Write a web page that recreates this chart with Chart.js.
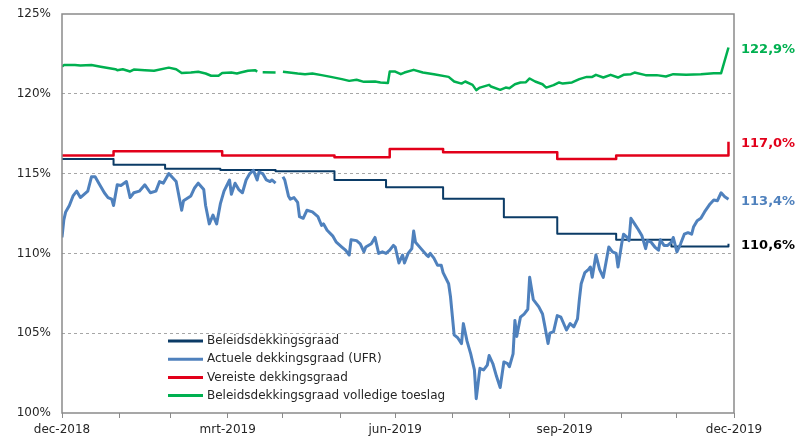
<!DOCTYPE html>
<html>
<head>
<meta charset="utf-8">
<script src="https://cdn.jsdelivr.net/npm/chart.js@4/dist/chart.umd.min.js"></script>
<style>
  body { margin: 0; background: #fff; }
  #wrap { width: 806px; height: 436px; }
</style>
</head>
<body>
<div id="wrap"><canvas id="dgChart" width="806" height="436"></canvas></div>
<script>
// x = dagen sinds 31-12-2018 (eind van de maand dec-2018)
const monthTicks = [0, 31, 59, 90, 120, 151, 181, 212, 243, 273, 304, 334, 365];
const monthLabels = ['dec-2018', '', '', 'mrt-2019', '', '', 'jun-2019', '', '', 'sep-2019', '', '', 'dec-2019'];
const yTicks = [100, 105, 110, 115, 120, 125];

const seriesNames = [
  'Beleidsdekkingsgraad',
  'Actuele dekkingsgraad (UFR)',
  'Vereiste dekkingsgraad',
  'Beleidsdekkingsgraad volledige toeslag'
];

// beleidsdekkingsgraad (trapjes)
const navyDays = [0, 28, 56, 86, 116, 148, 176, 207, 240, 269, 301, 331, 358, 362];
const navyValues = [115.92, 115.56, 115.3, 115.23, 115.15, 114.6, 114.15, 113.42, 112.27, 111.23, 110.85, 110.44, 110.44, 110.6];

// vereiste dekkingsgraad (trapjes)
const redDays = [0, 28, 87, 148, 178, 207, 269, 301, 358, 362];
const redValues = [116.13, 116.4, 116.13, 116.02, 116.54, 116.33, 115.92, 116.13, 116.13, 117.0];

// actuele dekkingsgraad
const blueDays = [
  0, 1, 2, 4, 6, 8, 10, 12, 14, 16,
  18, 20, 23, 25, 27, 28, 30, 32, 35, 37,
  39, 42, 45, 48, 51, 53, 55, 58, 62, 65,
  66, 70, 72, 74, 77, 78, 80, 82, 84, 86,
  88, 91, 92, 94, 96, 98, 100, 102, 104, 106,
  107, 109, 111, 113, 114, 116, 118, 120, 121, 123,
  124, 126, 128, 129, 131, 133, 136, 139, 141, 142,
  144, 147, 149, 152, 154, 156, 157, 160, 162, 164,
  165, 168, 170, 172, 174, 176, 178, 180, 181, 183,
  185, 186, 188, 190, 191, 192, 195, 198, 199, 200,
  202, 204, 206, 207, 210, 211, 213, 215, 217, 218,
  220, 222, 224, 225, 227, 229, 231, 232, 234, 236,
  238, 240, 242, 243, 245, 246, 247, 249, 251, 253,
  254, 256, 259, 261, 262, 264, 265, 267, 269, 271,
  274, 276, 278, 280, 281, 282, 284, 286, 287, 288,
  290, 292, 294, 297, 299, 301, 302, 304, 305, 307,
  308, 309, 311, 313, 315, 317, 318, 320, 322, 324,
  325, 327, 329, 331, 332, 334, 336, 338, 340, 342,
  343, 345, 347, 349, 352, 354, 356, 358, 360, 362
];
const blueValues = [
  111.0, 112.1, 112.6, 113.0, 113.6, 113.9, 113.5, 113.7, 113.9, 114.8,
  114.8, 114.4, 113.8, 113.5, 113.4, 113.0, 114.3, 114.25, 114.5, 113.5,
  113.8, 113.9, 114.3, 113.8, 113.9, 114.5, 114.4, 115.0, 114.5, 112.7,
  113.3, 113.6, 114.1, 114.4, 114.0, 113.0, 111.85, 112.4, 111.85, 113.1,
  113.9, 114.6, 113.7, 114.4, 114.0, 113.8, 114.6, 115.0, 115.2, 114.6,
  115.1, 115.0, 114.6, 114.5, 114.6, 114.4, null, 114.8, 114.6, 113.6,
  113.4, 113.5, 113.2, 112.3, 112.2, 112.7, 112.6, 112.3, 111.75, 111.85,
  111.45, 111.1, 110.7, 110.4, 110.2, 109.9, 110.85, 110.8, 110.6, 110.1,
  110.4, 110.6, 111.0, 110.0, 110.1, 110.0, 110.2, 110.5, 110.4, 109.4,
  109.9, 109.4, 110.0, 110.3, 111.4, 110.7, 110.3, 109.9, 109.8, 110.0,
  109.7, 109.25, 109.25, 108.8, 108.1, 107.3, 104.9, 104.7, 104.35, 105.6,
  104.5, 103.7, 102.7, 100.9, 102.8, 102.7, 103.0, 103.6, 103.1, 102.3,
  101.6, 103.2, 103.1, 102.9, 103.7, 105.8, 104.8, 106.0, 106.2, 106.5,
  108.5, 107.1, 106.65, 106.2, 105.6, 104.35, 105.0, 105.1, 106.1, 106.0,
  105.2, 105.6, 105.4, 105.9, 107.1, 108.1, 108.8, 109.0, 109.15, 108.5,
  109.9, 109.0, 108.5, 110.4, 110.1, 110.0, 109.15, 110.6, 111.2, 111.0,
  110.8, 112.2, 111.85, 111.5, 111.1, 110.3, 110.8, 110.7, 110.4, 110.2,
  110.85, 110.5, 110.5, 110.7, 111.0, 110.1, 110.6, 111.2, 111.3, 111.2,
  111.65, 112.05, 112.2, 112.6, 113.1, 113.35, 113.3, 113.8, 113.55, 113.4
];

// beleidsdekkingsgraad volledige toeslag
const greenDays = [
  0, 1, 7, 10, 16, 21, 29, 30, 33, 37,
  39, 45, 50, 58, 62, 65, 70, 74, 78, 81,
  85, 87, 92, 95, 97, 101, 105, 106, 107, 109,
  116, 118, 120, 128, 132, 136, 141, 146, 152, 156,
  160, 164, 170, 173, 177, 178, 181, 184, 186, 191,
  196, 202, 210, 213, 217, 219, 223, 225, 227, 232,
  233, 238, 241, 243, 246, 249, 252, 254, 257, 261,
  263, 267, 270, 272, 277, 281, 285, 288, 290, 294,
  298, 302, 305, 309, 311, 317, 323, 328, 332, 339,
  347, 354, 358, 362
];
const greenValues = [
  121.7, 121.8, 121.8, 121.77, 121.8, 121.7, 121.54, 121.48, 121.54, 121.4,
  121.52, 121.48, 121.44, 121.64, 121.54, 121.3, 121.33, 121.38, 121.27, 121.13,
  121.13, 121.3, 121.33, 121.27, 121.33, 121.44, 121.48, 121.38, null, 121.35,
  121.33, null, 121.38, 121.27, 121.23, 121.27, 121.17, 121.06, 120.92, 120.81,
  120.88, 120.75, 120.77, 120.71, 120.67, 121.39, 121.39, 121.23, 121.33, 121.5,
  121.33, 121.23, 121.06, 120.77, 120.64, 120.77, 120.56, 120.23, 120.39, 120.56,
  120.46, 120.25, 120.39, 120.35, 120.6, 120.71, 120.73, 120.96, 120.77, 120.6,
  120.39, 120.54, 120.71, 120.64, 120.71, 120.92, 121.06, 121.06, 121.19, 121.02,
  121.19, 121.02, 121.19, 121.23, 121.33, 121.17, 121.17, 121.08, 121.23, 121.19,
  121.23, 121.29, 121.29, 122.9
];

const colors = ['#0b3b66', '#4f81bd', '#e2001a', '#00b050'];
const endLabelColors = ['#000000', '#4f81bd', '#e2001a', '#00b050'];

function toPoints(days, values) {
  return days.map((d, i) => ({ x: d, y: values[i] }));
}

// rand om plotgebied, legenda in de grafiek en eindwaarden rechts
const extras = {
  id: 'extras',
  afterDraw(chart) {
    const ctx = chart.ctx;
    const a = chart.chartArea;
    ctx.save();
    ctx.strokeStyle = '#8a8a8a';
    ctx.lineWidth = 1.5;
    ctx.strokeRect(a.left, a.top, a.right - a.left, a.bottom - a.top);

    // legenda
    ctx.font = '12px "DejaVu Sans"';
    ctx.textBaseline = 'middle';
    ctx.textAlign = 'left';
    seriesNames.forEach((name, i) => {
      const y = 341 + i * 18.2;
      ctx.strokeStyle = colors[i];
      ctx.lineWidth = 3;
      ctx.beginPath();
      ctx.moveTo(168, y);
      ctx.lineTo(203, y);
      ctx.stroke();
      ctx.fillStyle = '#262626';
      ctx.fillText(name, 207, y);
    });

    // eindwaarden
    ctx.font = 'bold 13px "DejaVu Sans"';
    const ys = chart.scales.y;
    chart.data.datasets.forEach((ds, i) => {
      const last = ds.data[ds.data.length - 1].y;
      const y = ys.getPixelForValue(last) + 2;
      ctx.fillStyle = endLabelColors[i];
      ctx.fillText(last.toFixed(1).replace('.', ',') + '%', 741, y);
    });
    ctx.restore();
  }
};

new Chart(document.getElementById('dgChart'), {
  type: 'line',
  data: {
    datasets: [
      {
        label: seriesNames[0],
        data: toPoints(navyDays, navyValues),
        borderColor: colors[0],
        borderWidth: 2,
        stepped: 'before',
        order: 3
      },
      {
        label: seriesNames[1],
        data: toPoints(blueDays, blueValues),
        borderColor: colors[1],
        borderWidth: 3,
        order: 2
      },
      {
        label: seriesNames[2],
        data: toPoints(redDays, redValues),
        borderColor: colors[2],
        borderWidth: 2.5,
        stepped: 'before',
        order: 1
      },
      {
        label: seriesNames[3],
        data: toPoints(greenDays, greenValues),
        borderColor: colors[3],
        borderWidth: 2.5,
        order: 0
      }
    ]
  },
  options: {
    responsive: false,
    animation: false,
    spanGaps: false,
    elements: {
      point: { radius: 0, hoverRadius: 0 },
      line: { tension: 0, fill: false, borderJoinStyle: 'round' }
    },
    layout: { autoPadding: false, padding: { left: 0, top: 14, right: 72, bottom: 0 } },
    plugins: {
      legend: { display: false },
      tooltip: { enabled: false }
    },
    scales: {
      x: {
        type: 'linear',
        min: 0,
        max: 365,
        afterBuildTicks: s => { s.ticks = monthTicks.map(v => ({ value: v })); },
        afterFit: s => { s.height = 23; },
        grid: { drawOnChartArea: false, drawTicks: true, tickLength: 5, color: '#8a8a8a' },
        border: { display: false },
        ticks: {
          autoSkip: false,
          maxRotation: 0,
          padding: 5,
          color: '#262626',
          font: { family: 'DejaVu Sans', size: 12 },
          callback: (v, i) => monthLabels[i]
        }
      },
      y: {
        min: 100,
        max: 125,
        afterBuildTicks: s => { s.ticks = yTicks.map(v => ({ value: v })); },
        afterFit: s => { s.width = 62; s.paddingTop = 0; s.paddingBottom = 0; },
        grid: {
          drawTicks: false,
          color: ctx => (ctx.tick && (ctx.tick.value === 100 || ctx.tick.value === 125)) ? 'rgba(0,0,0,0)' : '#a6a6a6',
          lineWidth: 1
        },
        border: { display: false, dash: [3, 3] },
        ticks: {
          padding: 11,
          color: '#262626',
          font: { family: 'DejaVu Sans', size: 12 },
          callback: v => v + '%'
        }
      }
    }
  },
  plugins: [extras]
});
</script>
</body>
</html>
